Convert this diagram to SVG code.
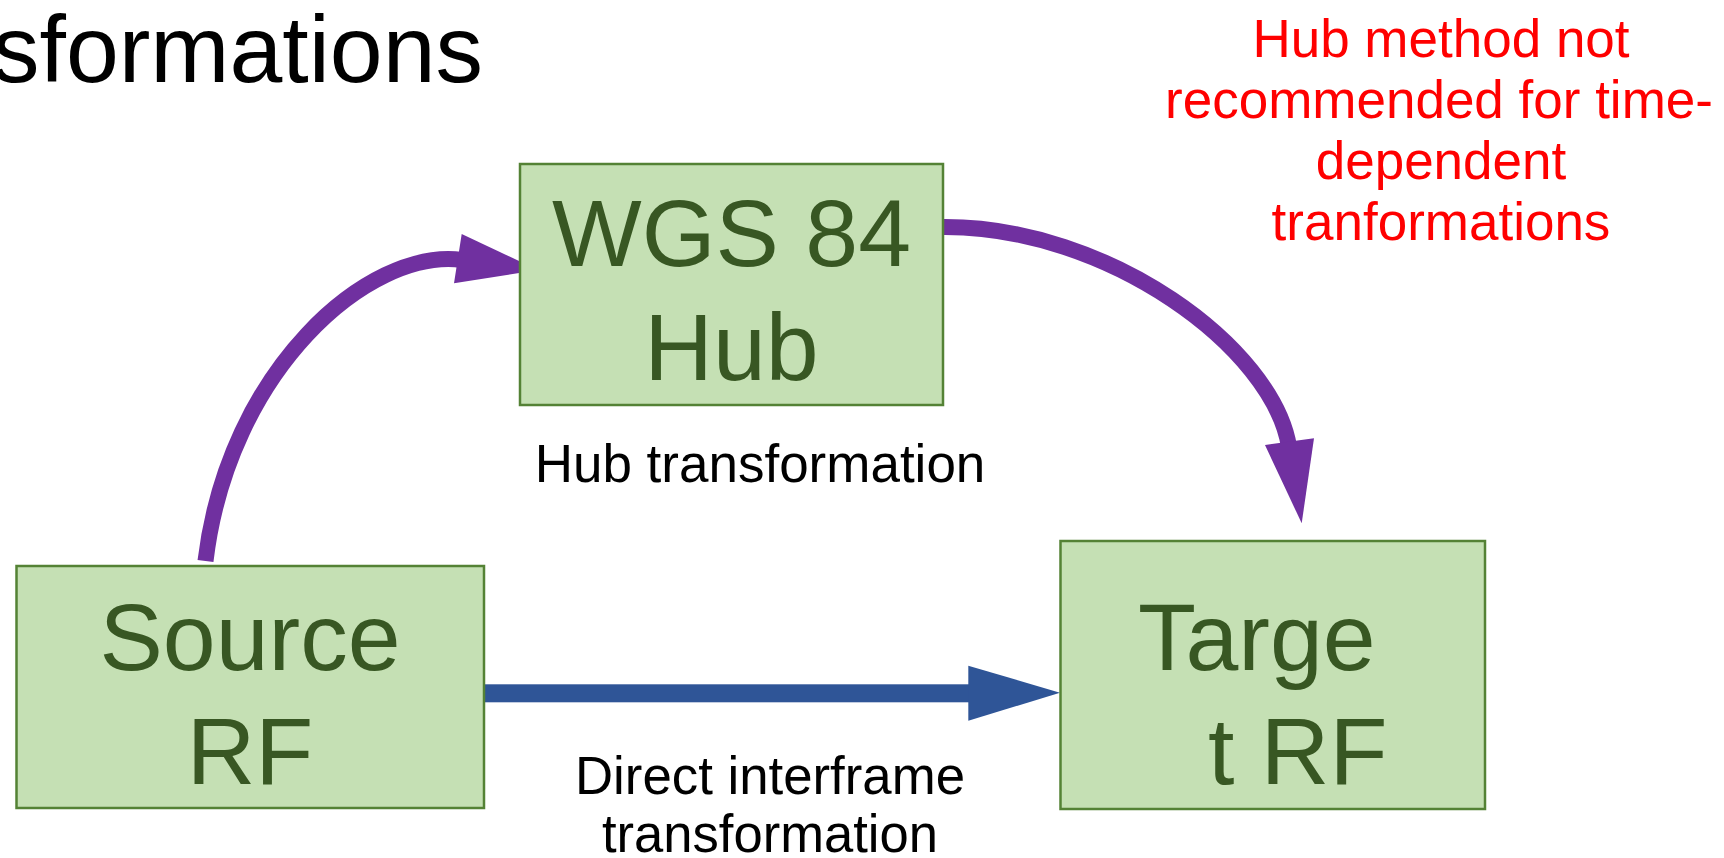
<svg xmlns="http://www.w3.org/2000/svg" width="1724" height="858" viewBox="0 0 1724 858">
<style>
.box{fill:#C5E0B4;stroke:#548235;stroke-width:2.5}
.nt{font-family:"Liberation Sans",Arial,sans-serif;font-size:95px;fill:#385723}
.lbl{font-family:"Liberation Sans",Arial,sans-serif;font-size:53px;fill:#000}
.red{font-family:"Liberation Sans",Arial,sans-serif;font-size:53px;fill:#FF0000;text-anchor:middle}
.purple{fill:none;stroke:#7030A0;stroke-width:16}
.phead{fill:#7030A0}
</style>
<rect width="1724" height="858" fill="#fff"/>
<text x="483" y="82" text-anchor="end" font-family="Liberation Sans, Arial, sans-serif" font-size="95" fill="#000">sformations</text>
<g id="connectors">
  <path class="purple" d="M205.5 561 C228.3 371 367.9 247.6 462 260"/>
  <polygon class="phead" points="461.7,234 538,270 454,283.3"/>
  <path class="purple" d="M943 227 C1108 226 1273 348 1289 446.7"/>
  <polygon class="phead" points="1265,445 1314,438.3 1301.7,523.3"/>
  <rect x="484" y="684.3" width="485" height="18" fill="#2F5597"/>
  <polygon points="968.3,665.7 1060,692.7 968.3,720.7" fill="#2F5597"/>
</g>
<g id="node-wgs84">
  <rect class="box" x="520" y="164" width="423" height="241"/>
  <text class="nt" x="731.5" y="266" text-anchor="middle">WGS 84</text>
  <text class="nt" x="731.5" y="380" text-anchor="middle">Hub</text>
</g>
<g id="node-source">
  <rect class="box" x="16.5" y="566" width="467.5" height="242"/>
  <text class="nt" x="250" y="670" text-anchor="middle">Source</text>
  <text class="nt" x="250" y="784" text-anchor="middle">RF</text>
</g>
<g id="node-target">
  <rect class="box" x="1060.5" y="541" width="424.5" height="268"/>
  <text class="nt" x="1138" y="670">Targe</text>
  <text class="nt" x="1208" y="784">t RF</text>
</g>
<g id="labels">
  <text class="lbl" x="760" y="482" text-anchor="middle">Hub transformation</text>
  <text class="lbl" x="770" y="794" text-anchor="middle" textLength="390" lengthAdjust="spacingAndGlyphs" font-size="56">Direct interframe</text>
  <text class="lbl" x="770" y="852" text-anchor="middle" textLength="336" lengthAdjust="spacingAndGlyphs" font-size="56">transformation</text>
</g>
<g id="note">
  <text class="red" x="1441" y="57">Hub method not</text>
  <text class="red" x="1439" y="118">recommended for time-</text>
  <text class="red" x="1441" y="179">dependent</text>
  <text class="red" x="1441" y="240">tranformations</text>
</g>
</svg>
